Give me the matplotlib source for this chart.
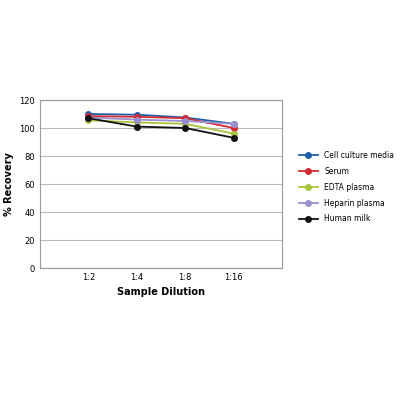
import matplotlib.pyplot as plt

diluciones = ['1:2', '1:4', '1:8', '1:16']
cell_culture = [110, 109.5, 107.5, 103]
serum = [108.5, 108, 107, 100]
edta = [105.5, 104, 103, 96]
heparin = [107.5, 106, 105, 103]
human_milk = [107, 101, 100, 93]

series = [
    ('Cell culture media', cell_culture, '#1f5fa8'),
    ('Serum', serum, '#d42a2f'),
    ('EDTA plasma', edta, '#a8c43a'),
    ('Heparin plasma', heparin, '#9a8fd0'),
    ('Human milk', human_milk, '#111111'),
]

fig = plt.figure(figsize=(4, 4), dpi=100)
ax = fig.add_axes([0.1, 0.33, 0.605, 0.42])
x = range(len(diluciones))
for nombre, valores, color in series:
    ax.plot(x, valores, '-o', color=color, label=nombre, markersize=4, linewidth=1.3)

ax.set_xlim(-1.0, 4.0)
ax.set_ylim(0, 120)
ax.set_yticks(range(0, 121, 20))
ax.set_xticks(list(x))
ax.set_xticklabels(diluciones)
ax.tick_params(labelsize=6, length=0)
ax.grid(True, axis='y', color='#bbbbbb', linewidth=0.8)
for s in ax.spines.values():
    s.set_color('#999999')
ax.set_xlabel('Sample Dilution', fontsize=7, fontweight='bold')
ax.set_ylabel('% Recovery', fontsize=7, fontweight='bold')
fig.legend(loc='upper left', bbox_to_anchor=(0.73, 0.64), frameon=False, fontsize=5.5,
           handlelength=2.5, labelspacing=0.9)

plt.savefig('out.png', dpi=100)
